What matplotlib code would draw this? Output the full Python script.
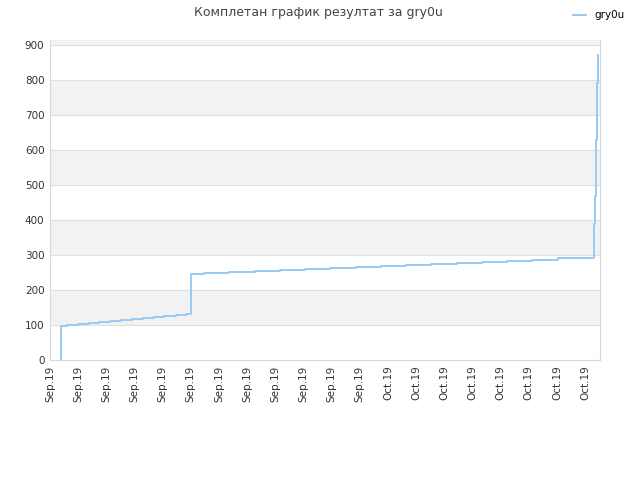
import matplotlib
matplotlib.use("Agg")
import matplotlib.pyplot as plt

title = "Комплетан график резултат за gry0u"
series_name = "gry0u"
tick_labels = ["Sep.19"] * 12 + ["Oct.19"] * 8
# step positions (in tick units) and cumulative score values
step_x = [0.39, 0.39, 0.59, 0.99, 1.38, 1.75, 2.14, 2.52, 2.91, 3.31, 3.69, 4.06,
          4.46, 4.83, 5.02, 5.47, 6.36, 7.28, 8.17, 9.06, 9.94, 10.87, 11.75,
          12.64, 13.53, 14.45, 15.34, 16.23, 17.12, 18.04, 18.93, 19.33, 19.34,
          19.38, 19.41, 19.45]
step_y = [0, 97, 100, 102, 105, 108, 111, 114, 117, 120, 123, 126,
          129, 132, 246, 249, 251, 254, 257, 260, 263, 266, 269,
          272, 275, 278, 281, 284, 287, 290, 292, 389, 469,
          629, 791, 871]
y_ticks = [0, 100, 200, 300, 400, 500, 600, 700, 800, 900]

fig = plt.figure(figsize=(6.4, 4.8), dpi=100)
ax = fig.add_axes([50/640, 1-360/480, 550/640, 320/480])

ymax = 914
for i in range(1, 10, 2):
    ax.axhspan(y_ticks[i], min(y_ticks[i] + 100, ymax), color="#f2f2f2", zorder=0, lw=0)
for v in y_ticks[1:]:
    ax.axhline(v, color="#e0e0e0", lw=0.8, zorder=1)

ax.plot(step_x, step_y, drawstyle="steps-post", color="#99c9f3", lw=1.4,
        zorder=3, label=series_name)

ax.set_xlim(0, 19.53)
ax.set_ylim(0, ymax)
ax.set_yticks(y_ticks)
ax.set_xticks(range(len(tick_labels)))
ax.set_xticklabels(tick_labels, rotation=90)
ax.tick_params(axis="both", length=0, labelsize=7.5, colors="#333333", pad=4)
for s in ["left", "bottom", "right"]:
    ax.spines[s].set_color("#d8d8d8")
ax.spines["top"].set_visible(False)

fig.text(0.497, 0.988, title, ha="center", va="top", fontsize=9, color="#444444")
fig.legend(loc="upper right", bbox_to_anchor=(0.99, 0.998), frameon=False,
           fontsize=7.5, handlelength=1.2, handletextpad=0.8)

fig.savefig("out.png", dpi=100)
